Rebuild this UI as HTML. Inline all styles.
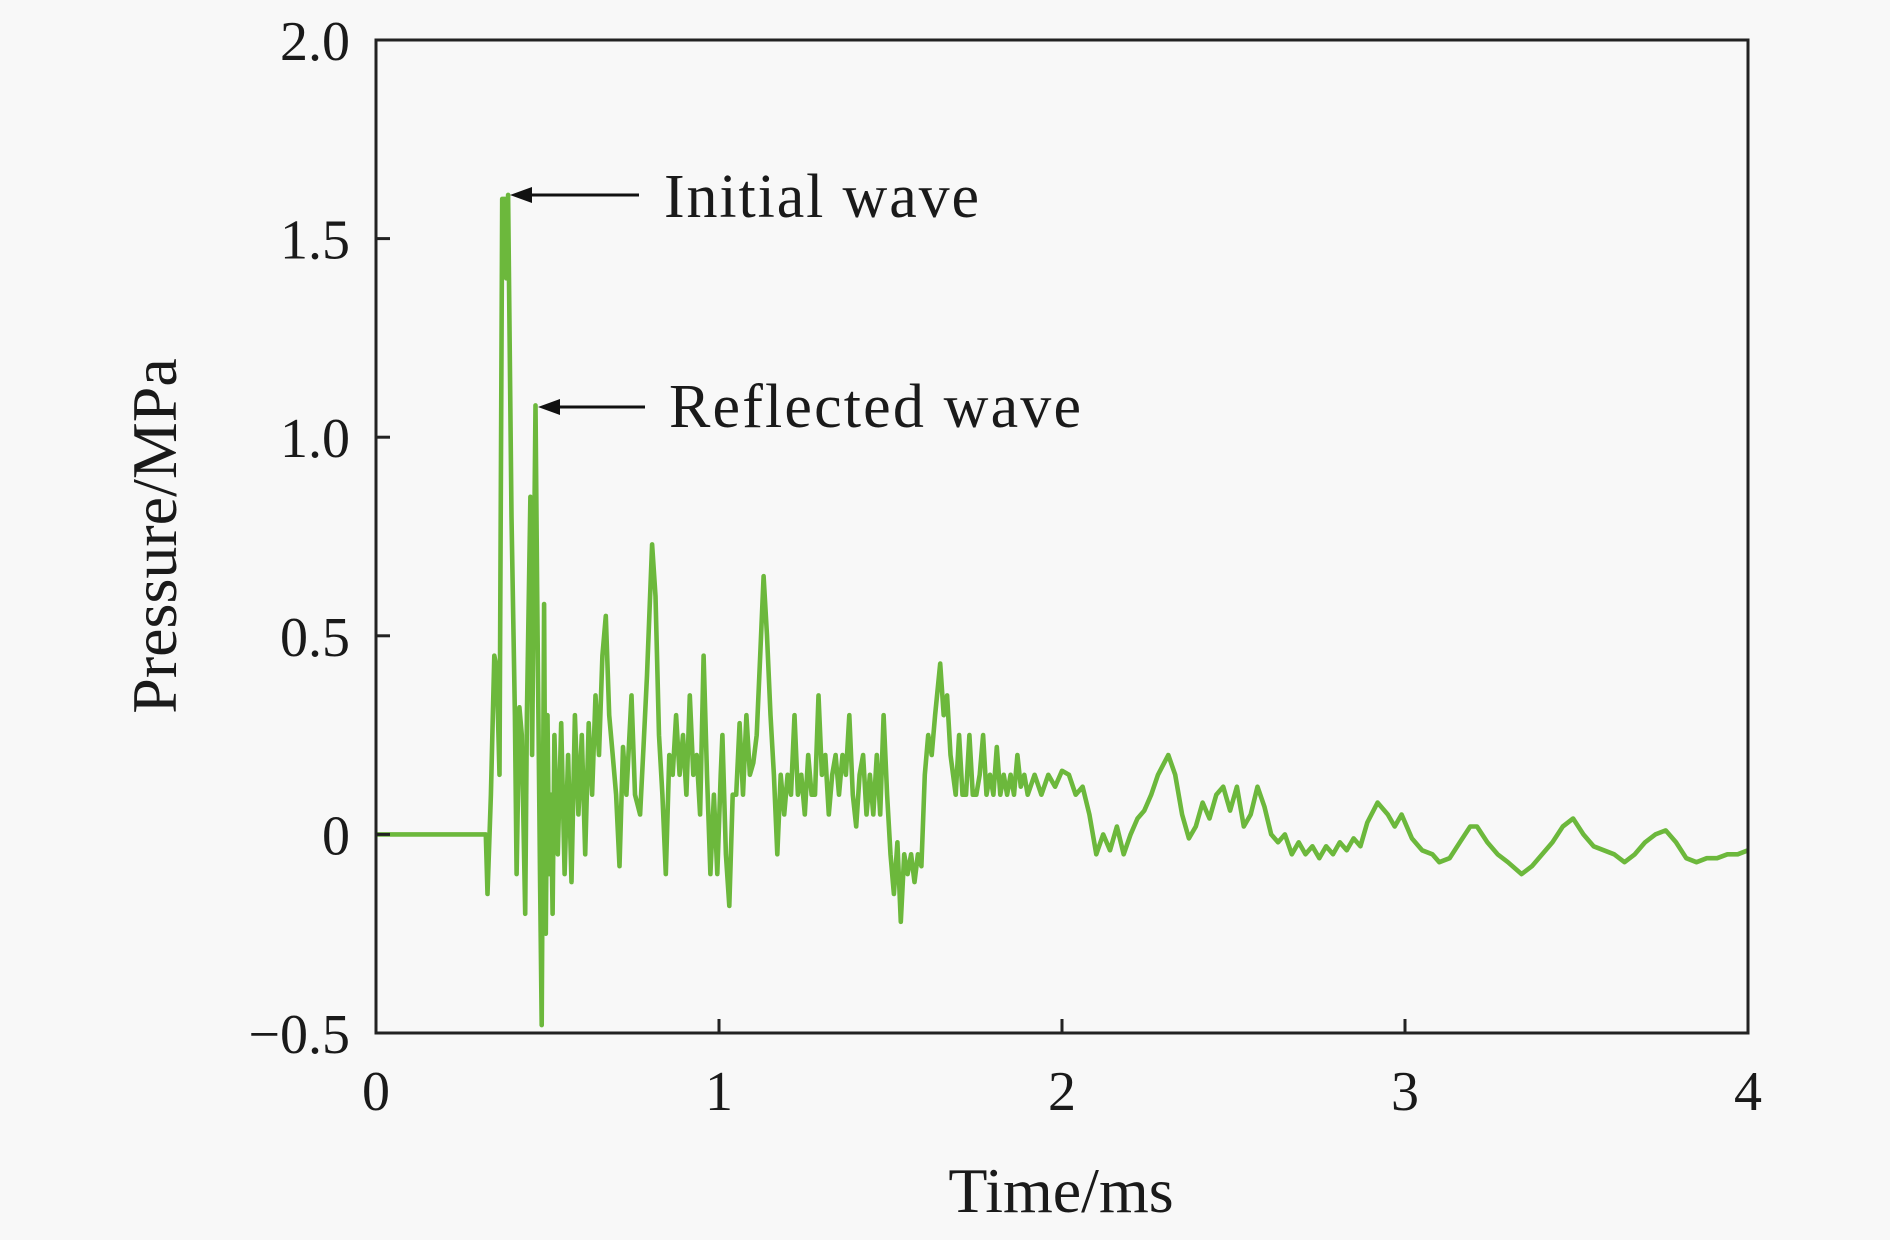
<!DOCTYPE html>
<html><head><meta charset="utf-8"><style>
html,body{margin:0;padding:0;background:#f8f8f8;}
svg{display:block;}
text{font-family:"Liberation Serif",serif;fill:#1a1a1a;}
</style></head><body>
<svg id="chart" width="1890" height="1240" viewBox="0 0 1890 1240">
<rect x="0" y="0" width="1890" height="1240" fill="#f8f8f8"/>
<g id="plot"></g>
<g id="axes"></g>
<text x="1061" y="1212" font-size="64" text-anchor="middle">Time/ms</text>
<text transform="translate(176,536) rotate(-90)" font-size="64" text-anchor="middle">Pressure/MPa</text>
<g>
<line x1="639" y1="195" x2="522" y2="195" stroke="#111" stroke-width="3"/>
<polygon points="510,195 532,187 532,203" fill="#111"/>
<text x="664" y="217" font-size="62" textLength="315">Initial wave</text>
</g>
<g>
<line x1="645" y1="407" x2="550" y2="407" stroke="#111" stroke-width="3"/>
<polygon points="538,407 560,399 560,415" fill="#111"/>
<text x="669" y="427" font-size="62" textLength="412">Reflected wave</text>
</g>
</svg>
<script>
const times=[0,0.32,0.325,0.335,0.345,0.352,0.36,0.368,0.376,0.38,0.385,0.395,0.405,0.41,0.418,0.425,0.435,0.44,0.45,0.455,0.465,0.47,0.478,0.483,0.49,0.495,0.5,0.505,0.51,0.515,0.52,0.53,0.54,0.55,0.56,0.57,0.58,0.59,0.6,0.61,0.62,0.63,0.64,0.65,0.66,0.67,0.68,0.69,0.7,0.71,0.72,0.73,0.745,0.755,0.77,0.78,0.79,0.805,0.815,0.825,0.835,0.845,0.855,0.865,0.875,0.885,0.895,0.905,0.915,0.925,0.935,0.945,0.955,0.965,0.975,0.985,0.995,1.005,1.01,1.02,1.03,1.04,1.05,1.06,1.07,1.08,1.09,1.10,1.11,1.12,1.13,1.14,1.15,1.16,1.17,1.18,1.19,1.2,1.21,1.22,1.23,1.24,1.25,1.26,1.27,1.28,1.29,1.30,1.31,1.32,1.33,1.34,1.35,1.36,1.37,1.38,1.39,1.40,1.41,1.42,1.43,1.44,1.45,1.46,1.47,1.48,1.49,1.5,1.51,1.52,1.53,1.54,1.55,1.56,1.57,1.58,1.59,1.6,1.61,1.62,1.63,1.645,1.655,1.665,1.675,1.69,1.70,1.71,1.72,1.73,1.74,1.75,1.76,1.77,1.78,1.79,1.80,1.81,1.82,1.83,1.84,1.85,1.86,1.87,1.88,1.89,1.9,1.92,1.94,1.96,1.98,2.0,2.02,2.04,2.06,2.08,2.1,2.12,2.14,2.16,2.18,2.2,2.22,2.24,2.26,2.28,2.31,2.33,2.35,2.37,2.39,2.41,2.43,2.45,2.47,2.49,2.51,2.53,2.55,2.57,2.59,2.61,2.63,2.65,2.67,2.69,2.71,2.73,2.75,2.77,2.79,2.81,2.83,2.85,2.87,2.89,2.92,2.95,2.97,2.99,3.02,3.05,3.08,3.1,3.13,3.16,3.19,3.21,3.24,3.27,3.3,3.34,3.37,3.4,3.43,3.46,3.49,3.52,3.55,3.58,3.61,3.64,3.67,3.7,3.73,3.76,3.79,3.82,3.85,3.88,3.91,3.94,3.97,4.0];
const pressures=[0,0,-0.15,0.1,0.45,0.42,0.15,1.6,1.6,1.4,1.61,0.8,0.3,-0.1,0.32,0.25,-0.2,0.3,0.85,0.2,1.08,0.6,-0.1,-0.48,0.58,-0.25,0.3,-0.1,0.1,-0.2,0.25,-0.05,0.28,-0.1,0.2,-0.12,0.3,0.05,0.25,-0.05,0.28,0.1,0.35,0.2,0.45,0.55,0.3,0.2,0.1,-0.08,0.22,0.1,0.35,0.1,0.05,0.22,0.4,0.73,0.6,0.25,0.1,-0.1,0.2,0.15,0.3,0.15,0.25,0.1,0.35,0.15,0.2,0.05,0.45,0.15,-0.1,0.1,-0.1,0.15,0.25,-0.05,-0.18,0.1,0.1,0.28,0.1,0.3,0.15,0.18,0.25,0.45,0.65,0.5,0.3,0.15,-0.05,0.15,0.05,0.15,0.1,0.3,0.1,0.15,0.05,0.2,0.1,0.1,0.35,0.15,0.2,0.05,0.15,0.2,0.1,0.2,0.15,0.3,0.1,0.02,0.15,0.2,0.05,0.15,0.05,0.2,0.05,0.3,0.1,-0.05,-0.15,-0.02,-0.22,-0.05,-0.1,-0.05,-0.12,-0.05,-0.08,0.15,0.25,0.2,0.3,0.43,0.3,0.35,0.2,0.1,0.25,0.1,0.1,0.25,0.1,0.1,0.15,0.25,0.1,0.15,0.1,0.22,0.1,0.15,0.1,0.15,0.1,0.2,0.12,0.15,0.1,0.15,0.1,0.15,0.12,0.16,0.15,0.1,0.12,0.05,-0.05,0.0,-0.04,0.02,-0.05,0.0,0.04,0.06,0.1,0.15,0.2,0.15,0.05,-0.01,0.02,0.08,0.04,0.1,0.12,0.06,0.12,0.02,0.05,0.12,0.07,0.0,-0.02,0.0,-0.05,-0.02,-0.05,-0.03,-0.06,-0.03,-0.05,-0.02,-0.04,-0.01,-0.03,0.03,0.08,0.05,0.02,0.05,-0.01,-0.04,-0.05,-0.07,-0.06,-0.02,0.02,0.02,-0.02,-0.05,-0.07,-0.1,-0.08,-0.05,-0.02,0.02,0.04,0.0,-0.03,-0.04,-0.05,-0.07,-0.05,-0.02,0.0,0.01,-0.02,-0.06,-0.07,-0.06,-0.06,-0.05,-0.05,-0.04];
const xTicks=[0,1,2,3,4];
const xTickLabels=["0","1","2","3","4"];
const yTicks=[-0.5,0,0.5,1.0,1.5,2.0];
const yTickLabels=["\u22120.5","0","0.5","1.0","1.5","2.0"];

const L=376,R=1748,T=40,B=1033,xMin=0,xMax=4,yMin=-0.5,yMax=2.0;
const xs=v=>L+(v-xMin)/(xMax-xMin)*(R-L);
const ys=v=>B-(v-yMin)/(yMax-yMin)*(B-T);
const NS="http://www.w3.org/2000/svg";
const plot=document.getElementById('plot'),axes=document.getElementById('axes');

const path=document.createElementNS(NS,'path');
let d='';
for(let i=0;i<times.length;i++){d+=(i?'L':'M')+xs(times[i]).toFixed(1)+','+ys(pressures[i]).toFixed(1);}
path.setAttribute('d',d);
path.setAttribute('fill','none');
path.setAttribute('stroke','#6cb83c');
path.setAttribute('stroke-width','4.6');
path.setAttribute('stroke-linejoin','round');


plot.appendChild(path);

const frame=document.createElementNS(NS,'rect');
frame.setAttribute('x',L);frame.setAttribute('y',T);
frame.setAttribute('width',R-L);frame.setAttribute('height',B-T);
frame.setAttribute('fill','none');frame.setAttribute('stroke','#222');frame.setAttribute('stroke-width','3');


axes.appendChild(frame);

xTicks.forEach((v,i)=>{
  const tk=document.createElementNS(NS,'line');
  tk.setAttribute('x1',xs(v));tk.setAttribute('x2',xs(v));
  tk.setAttribute('y1',B);tk.setAttribute('y2',B-14);
  tk.setAttribute('stroke','#222');tk.setAttribute('stroke-width','3');
  
  
  axes.appendChild(tk);
  const t=document.createElementNS(NS,'text');
  t.setAttribute('x',xs(v));t.setAttribute('y',1110);
  t.setAttribute('font-size','56');t.setAttribute('text-anchor','middle');
  t.textContent=xTickLabels[i];
  
  
  axes.appendChild(t);
});
yTicks.forEach((v,i)=>{
  const tk=document.createElementNS(NS,'line');
  tk.setAttribute('x1',L);tk.setAttribute('x2',L+14);
  tk.setAttribute('y1',ys(v));tk.setAttribute('y2',ys(v));
  tk.setAttribute('stroke','#222');tk.setAttribute('stroke-width','3');
  
  
  axes.appendChild(tk);
  const t=document.createElementNS(NS,'text');
  t.setAttribute('x',350);t.setAttribute('y',ys(v)+20);
  t.setAttribute('font-size','56');t.setAttribute('text-anchor','end');
  t.textContent=yTickLabels[i];
  
  
  axes.appendChild(t);
});
</script>
</body></html>
